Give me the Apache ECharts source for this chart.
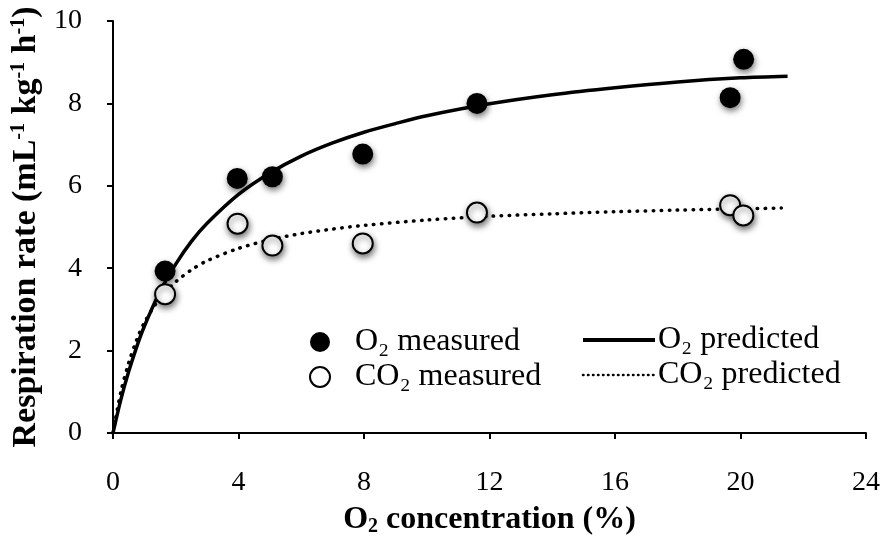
<!DOCTYPE html>
<html>
<head>
<meta charset="utf-8">
<script src="https://cdn.jsdelivr.net/npm/echarts@6/dist/echarts.min.js"></script>
<style>
  html, body { margin: 0; padding: 0; background: #fff; }
  #chart { width: 885px; height: 545px; }
</style>
</head>
<body>
<div id="chart"></div>
<script>
// measured points
const o2MeasX = [1.66, 3.96, 5.08, 7.96, 11.6, 19.67, 20.1];
const o2MeasY = [3.93, 6.18, 6.22, 6.77, 8.0, 8.14, 9.07];
const co2MeasX = [1.66, 3.97, 5.08, 7.96, 11.6, 19.67, 20.09];
const co2MeasY = [3.37, 5.08, 4.55, 4.6, 5.35, 5.53, 5.28];

// predicted curves
const o2PredX = [0, 0.25, 0.5, 0.75, 1, 1.5, 2, 2.5, 3, 4, 5, 6, 7, 8, 9, 10, 12, 14, 16, 18, 20, 21.5];
const o2PredY = [0, 0.81, 1.49, 2.08, 2.59, 3.44, 4.1, 4.65, 5.09, 5.79, 6.31, 6.72, 7.04, 7.3, 7.51, 7.7, 7.99, 8.21, 8.38, 8.52, 8.62, 8.66];
const co2PredX = [0, 0.25, 0.5, 0.75, 1, 1.5, 2, 2.5, 3, 4, 5, 6, 7, 8, 10, 12, 14, 16, 18, 20, 21.3];
const co2PredY = [0, 1.0, 1.7, 2.25, 2.68, 3.28, 3.67, 3.96, 4.18, 4.48, 4.69, 4.84, 4.95, 5.04, 5.17, 5.26, 5.32, 5.37, 5.41, 5.44, 5.46];

const xTicks = { min: 0, max: 24, interval: 4 };
const yTicks = { min: 0, max: 10, interval: 2 };

const zip = (xs, ys) => xs.map((x, i) => [x, ys[i]]);

const serif = 'Liberation Serif, Times New Roman, serif';
const markerShadow = {
    shadowBlur: 6,
    shadowColor: 'rgba(0,0,0,0.55)',
    shadowOffsetX: 1,
    shadowOffsetY: 3
};
const noShadow = { shadowBlur: 0, shadowOffsetX: 0, shadowOffsetY: 0, shadowColor: 'transparent' };

const chart = echarts.init(document.getElementById('chart'));

chart.setOption({
    animation: false,
    backgroundColor: '#fff',
    grid: { left: 113, right: 19, top: 21, bottom: 112 },
    legend: [
        {
            left: 304, top: 321, orient: 'vertical', itemGap: 3,
            itemWidth: 20, itemHeight: 20,
            data: ['O₂ measured', 'CO₂ measured'],
            itemStyle: noShadow,
            textStyle: { fontFamily: serif, fontSize: 32, lineHeight: 32, color: '#000', padding: [0, 0, 0, 20] }
        },
        {
            left: 576, top: 319, orient: 'vertical', itemGap: 3,
            itemWidth: 72, itemHeight: 20,
            data: [
                { name: 'O₂ predicted', lineStyle: { width: 4 } },
                { name: 'CO₂ predicted', lineStyle: { width: 2.5, type: [0.5, 4.5], cap: 'round' } }
            ],
            itemStyle: Object.assign({ color: 'transparent', borderWidth: 0 }, noShadow),
            textStyle: { fontFamily: serif, fontSize: 32, lineHeight: 32, color: '#000', padding: [0, 0, 0, -2] }
        }
    ],
    xAxis: {
        type: 'value',
        min: xTicks.min, max: xTicks.max, interval: xTicks.interval,
        name: '{b|O}{sub|2}{b| concentration (%)}',
        nameLocation: 'middle',
        nameGap: 70,
        nameTextStyle: {
            rich: {
                b: { fontFamily: serif, fontSize: 32, fontWeight: 'bold', color: '#000' },
                sub: { fontFamily: serif, fontSize: 20, fontWeight: 'bold', color: '#000', padding: [14, 0, 0, 0] }
            }
        },
        axisLine: { onZero: false, lineStyle: { color: '#000', width: 2 } },
        axisTick: { length: 6, lineStyle: { color: '#000', width: 2 } },
        axisLabel: { margin: 36, fontFamily: serif, fontSize: 28, color: '#000' },
        splitLine: { show: false }
    },
    yAxis: {
        type: 'value',
        min: yTicks.min, max: yTicks.max, interval: yTicks.interval,
        name: '{b|Respiration rate (mL}{sup|-1}{b| kg}{sup|-1}{b| h}{sup|-1}{b|)}',
        nameLocation: 'middle',
        nameGap: 66,
        nameTextStyle: {
            rich: {
                b: { fontFamily: serif, fontSize: 34, fontWeight: 'bold', color: '#000' },
                sup: { fontFamily: serif, fontSize: 20, fontWeight: 'bold', color: '#000', padding: [0, 0, 14, 0] }
            }
        },
        axisLine: { show: true, onZero: false, lineStyle: { color: '#000', width: 2 } },
        axisTick: { show: true, length: 6, lineStyle: { color: '#000', width: 2 } },
        axisLabel: { margin: 31, fontFamily: serif, fontSize: 28, color: '#000' },
        splitLine: { show: false }
    },
    series: [
        {
            name: 'O₂ predicted',
            type: 'line',
            data: zip(o2PredX, o2PredY),
            smooth: 0.3,
            symbol: 'none',
            lineStyle: { color: '#000', width: 3.5 },
            itemStyle: { color: '#000' },
            z: 2
        },
        {
            name: 'CO₂ predicted',
            type: 'line',
            data: zip(co2PredX, co2PredY),
            smooth: 0.3,
            symbol: 'none',
            lineStyle: { color: '#000', width: 3.5, type: [0.5, 7.5], cap: 'round' },
            itemStyle: { color: '#000' },
            z: 2
        },
        {
            name: 'O₂ measured',
            type: 'scatter',
            data: zip(o2MeasX, o2MeasY),
            symbolSize: 21,
            itemStyle: Object.assign({ color: '#000', opacity: 1 }, markerShadow),
            z: 3
        },
        {
            name: 'CO₂ measured',
            type: 'scatter',
            data: zip(co2MeasX, co2MeasY),
            symbolSize: 20,
            itemStyle: Object.assign({ color: '#fff', borderColor: '#000', borderWidth: 2, opacity: 1 }, markerShadow),
            z: 3
        }
    ]
});
</script>
</body>
</html>
